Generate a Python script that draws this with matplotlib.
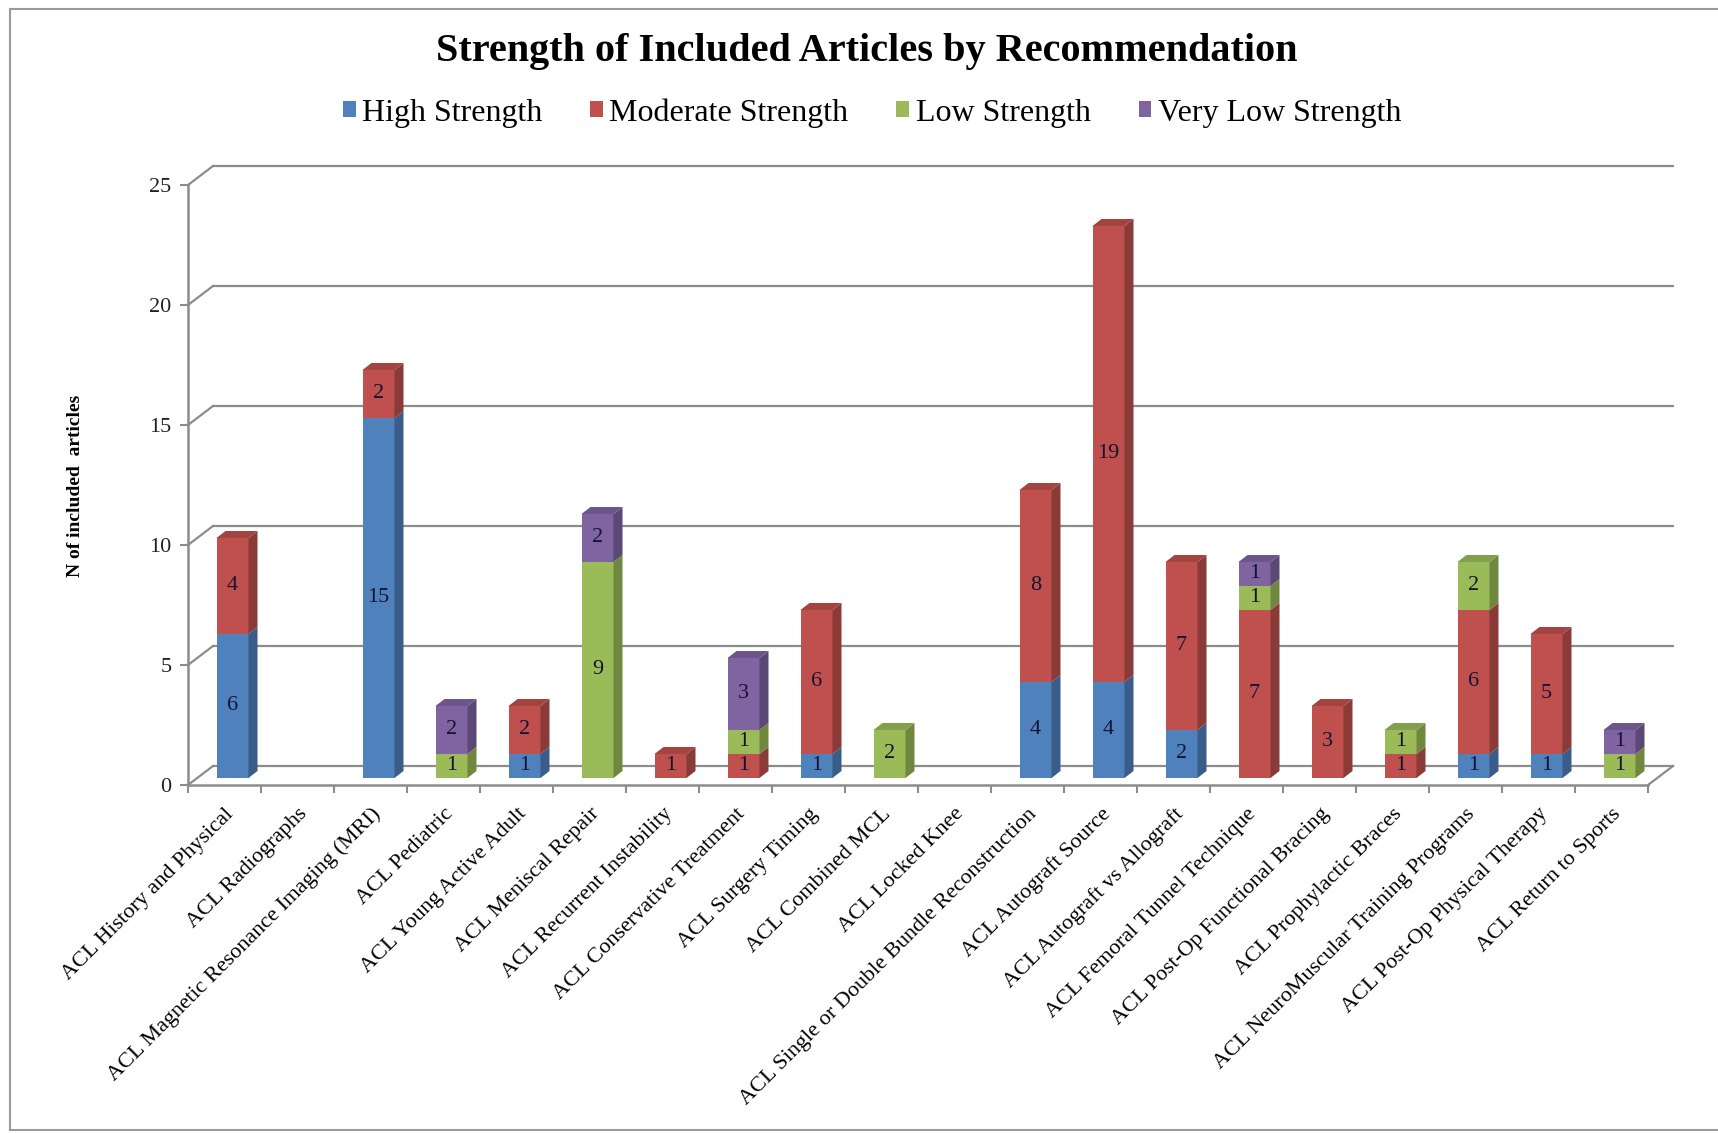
import matplotlib
matplotlib.use('Agg')
import matplotlib.pyplot as plt
from matplotlib.patches import Polygon
import numpy as np

# Data
categories = [
    'ACL History and Physical',
    'ACL Radiographs',
    'ACL Magnetic Resonance Imaging (MRI)',
    'ACL Pediatric',
    'ACL Young Active Adult',
    'ACL Meniscal Repair',
    'ACL Recurrent Instability',
    'ACL Conservative Treatment',
    'ACL Surgery Timing',
    'ACL Combined MCL',
    'ACL Locked Knee',
    'ACL Single or Double Bundle Reconstruction',
    'ACL Autograft Source',
    'ACL Autograft vs Allograft',
    'ACL Femoral Tunnel Technique',
    'ACL Post-Op Functional Bracing',
    'ACL Prophylactic Braces',
    'ACL NeuroMuscular Training Programs',
    'ACL Post-Op Physical Therapy',
    'ACL Return to Sports',
]
high = [6, 0, 15, 0, 1, 0, 0, 0, 1, 0, 0, 4, 4, 2, 0, 0, 0, 1, 1, 0]
moderate = [4, 0, 2, 0, 2, 0, 1, 1, 6, 0, 0, 8, 19, 7, 7, 3, 1, 6, 5, 0]
low = [0, 0, 0, 1, 0, 9, 0, 1, 0, 2, 0, 0, 0, 0, 1, 0, 1, 2, 0, 1]
very_low = [0, 0, 0, 2, 0, 2, 0, 3, 0, 0, 0, 0, 0, 0, 1, 0, 0, 0, 0, 1]
series_names = ['High Strength', 'Moderate Strength', 'Low Strength', 'Very Low Strength']
series_colors = ['#4F81BD', '#C0504D', '#9BBB59', '#8064A2']
yticks = [0, 5, 10, 15, 20, 25]


def shade(hex_color, f):
    c = np.array(matplotlib.colors.to_rgb(hex_color))
    return tuple(np.clip(c * f, 0, 1))


def main():
    plt.rcParams['font.family'] = ['Liberation Serif', 'DejaVu Serif']
    W, H = 1718, 1133
    fig = plt.figure(figsize=(W / 100, H / 100), dpi=100)

    # front plane of the pseudo-3D plot
    left, right, bottom_px, top_px = 188, 1648, 785, 185
    ax = fig.add_axes([left / W, 1 - bottom_px / H,
                       (right - left) / W, (bottom_px - top_px) / H])
    n = len(categories)
    ymax = yticks[-1]
    ax.set_xlim(-0.5, n - 0.5)
    ax.set_ylim(0, ymax)
    for s in ax.spines.values():
        s.set_visible(False)

    px_cat = (right - left) / n
    px_unit = (bottom_px - top_px) / ymax

    def dx(p):
        return p / px_cat

    def dy(p):
        return p / px_unit

    grid = '#8c8c8c'
    wx, wy = dx(25), dy(19)

    # back wall gridlines and side-wall diagonals
    for v in yticks:
        ax.plot([-0.5 + wx, n - 0.5 + wx], [v + wy, v + wy], color=grid, lw=1.6,
                clip_on=False, zorder=1)
        ax.plot([-0.5, -0.5 + wx], [v, v + wy], color=grid, lw=1.6,
                clip_on=False, zorder=1)
    # floor front edge, right diagonal and left axis
    ax.plot([-0.5, n - 0.5], [0, 0], color=grid, lw=1.8, clip_on=False, zorder=1)
    ax.plot([n - 0.5, n - 0.5 + wx], [0, wy], color=grid, lw=1.6, clip_on=False, zorder=1)
    ax.plot([-0.5, -0.5], [0, ymax], color=grid, lw=1.8, clip_on=False, zorder=1)

    x = np.arange(n)
    ax.set_yticks(yticks)
    ax.set_yticklabels([str(v) for v in yticks])
    ax.tick_params(axis='y', length=6, width=1.5, color=grid, labelsize=16, pad=6,
                   labelcolor='#222222')
    ax.set_xticks(x)
    ax.set_xticklabels(categories, rotation=45, ha='right', rotation_mode='anchor',
                       fontsize=16)
    ax.set_xticks(np.arange(-0.5, n, 1), minor=True)
    ax.tick_params(axis='x', which='major', length=0, pad=14)
    ax.tick_params(axis='x', which='minor', length=6, width=1.5, color=grid)

    # stacked bars with side and top faces
    bw = 32 / px_cat
    ox, oy = dx(8), dy(7)
    sx, sy = dx(9), dy(7)
    data = [np.array(high), np.array(moderate), np.array(low), np.array(very_low)]
    base = np.zeros(n)
    top_color = [None] * n
    handles = []
    for name, vals, col in zip(series_names, data, series_colors):
        h = ax.bar(x + ox, vals, bw, bottom=base + oy, color=col, label=name,
                   zorder=3, linewidth=0)
        handles.append(h)
        for i in range(n):
            if vals[i] <= 0:
                continue
            xr = x[i] + ox + bw / 2
            b, t = base[i] + oy, base[i] + vals[i] + oy
            side = Polygon([(xr, b), (xr + sx, b + sy), (xr + sx, t + sy), (xr, t)],
                           closed=True, facecolor=shade(col, 0.72), lw=0,
                           zorder=3, clip_on=False)
            ax.add_patch(side)
            ax.text(x[i] + ox, base[i] + vals[i] / 2 + oy, str(vals[i]),
                    ha='center', va='center', fontsize=16, color='#141432', zorder=5)
            top_color[i] = col
        base = base + vals

    for i in range(n):
        if top_color[i] is None:
            continue
        xl = x[i] + ox - bw / 2
        t = base[i] + oy
        top = Polygon([(xl, t), (xl + sx, t + sy), (xl + bw + sx, t + sy), (xl + bw, t)],
                      closed=True, facecolor=shade(top_color[i], 0.85), lw=0,
                      zorder=4, clip_on=False)
        ax.add_patch(top)

    # title, legend, axis label
    fig.text(867 / W, 1 - 52 / H, 'Strength of Included Articles by Recommendation',
             ha='center', va='center', fontsize=29, fontweight='bold')
    fig.legend(handles=handles, loc='center', bbox_to_anchor=(872 / W, 1 - 113 / H),
               ncol=4, frameon=False, fontsize=23, handlelength=0.4,
               handleheight=0.4, handletextpad=0.2, columnspacing=1.5)
    fig.text(75 / W, 1 - 486 / H, 'N of included  articles', rotation=90,
             ha='center', va='center', fontsize=14, fontweight='bold')

    # outer frame of the chart area
    frame = '#9a9a9a'
    fig.add_artist(plt.Line2D([10 / W, 10 / W], [1 - 9 / H, 1 - 1130 / H],
                              transform=fig.transFigure, color=frame, lw=1.5))
    fig.add_artist(plt.Line2D([10 / W, 1], [1 - 9 / H, 1 - 9 / H],
                              transform=fig.transFigure, color=frame, lw=1.5))
    fig.add_artist(plt.Line2D([10 / W, 1], [1 - 1130 / H, 1 - 1130 / H],
                              transform=fig.transFigure, color=frame, lw=1.5))

    fig.savefig('out.png', dpi=100)


main()
